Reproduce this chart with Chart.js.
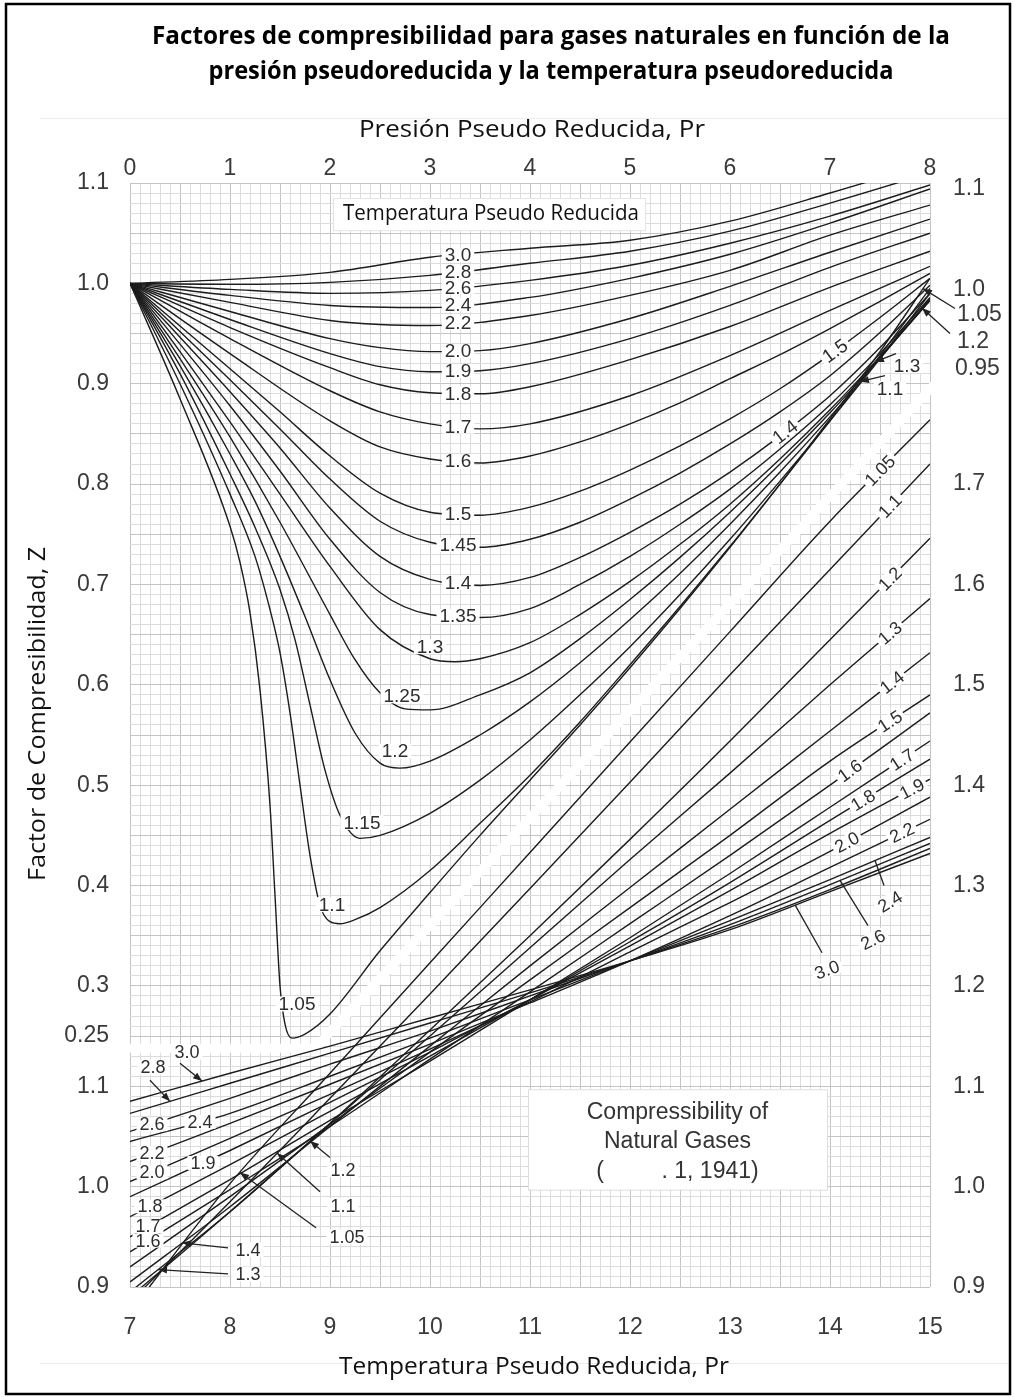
<!DOCTYPE html>
<html>
<head>
<meta charset="utf-8">
<script src="https://cdn.jsdelivr.net/npm/chart.js@4.4.1/dist/chart.umd.min.js"></script>
<style>
html,body{margin:0;padding:0;background:#fff;}
canvas{display:block;}
</style>
</head>
<body>
<canvas id="c" width="1014" height="1397"></canvas>
<script>
// ---------------- DATA ----------------
// Upper chart: Pr 0-8 (top axis), Z left axis. Points are [Pr, Z].
const U300 = [[0,1],[1,1.004],[2,1.011],[3,1.026],[4,1.035],[5,1.043],[6,1.062],[7,1.09],[8,1.12]];
const U280 = [[0,1],[1,0.999],[2,1.001],[3,1.008],[4,1.02],[5,1.032],[6,1.052],[7,1.08],[8,1.11]];
const U260 = [[0,1],[1,0.994],[2,0.99],[3,0.993],[4,1.003],[5,1.018],[6,1.04],[7,1.067],[8,1.098]];
const U240 = [[0,1],[1,0.988],[2,0.978],[3,0.976],[4,0.986],[5,1.005],[6,1.029],[7,1.06],[8,1.094]];
const U220 = [[0,1],[1,0.981],[2,0.963],[2.5,0.959],[3,0.958],[4,0.968],[5,0.988],[6,1.013],[7,1.048],[8,1.078]];
const U200 = [[0,1],[1,0.972],[2,0.945],[2.5,0.936],[3,0.932],[3.5,0.933],[4,0.94],[5,0.965],[6,0.997],[7,1.031],[8,1.064]];
const U190 = [[0,1],[1,0.964],[2,0.93],[2.5,0.917],[3,0.912],[3.5,0.913],[4,0.92],[5,0.945],[6,0.978],[7,1.016],[8,1.05]];
const U180 = [[0,1],[1,0.956],[2,0.916],[2.5,0.899],[3,0.891],[3.5,0.89],[4,0.897],[5,0.924],[6,0.957],[7,0.996],[8,1.032]];
const U170 = [[0,1],[1,0.945],[2,0.893],[2.5,0.872],[3,0.86],[3.5,0.855],[4,0.86],[5,0.888],[6,0.928],[7,0.973],[8,1.017]];
const U160 = [[0,1],[1,0.93],[2,0.863],[2.5,0.837],[3,0.825],[3.5,0.821],[4,0.828],[4.5,0.842],[5,0.86],[5.5,0.881],[6,0.905],[6.5,0.929],[7,0.955],[7.5,0.982],[8,1.01]];
const U150 = [[0,1],[1,0.915],[1.5,0.872],[2,0.828],[2.5,0.791],[3,0.772],[3.5,0.769],[4,0.777],[4.5,0.793],[5,0.814],[5.5,0.838],[6,0.865],[6.5,0.895],[7,0.929],[7.5,0.966],[8,1.005]];
const U145 = [[0,1],[1,0.904],[1.5,0.855],[2,0.805],[2.5,0.763],[3,0.742],[3.5,0.737],[4,0.745],[4.5,0.762],[5,0.785],[5.5,0.811],[6,0.84],[6.5,0.872],[7,0.908],[7.5,0.951],[8,0.998]];
const U140 = [[0,1],[1,0.892],[1.5,0.836],[2,0.776],[2.5,0.728],[3,0.705],[3.5,0.699],[4,0.707],[4.5,0.727],[5,0.752],[5.5,0.78],[6,0.812],[6.5,0.848],[7,0.888],[7.5,0.936],[8,0.99]];
const U135 = [[0,1],[1,0.878],[1.5,0.813],[2,0.745],[2.5,0.692],[3,0.67],[3.5,0.667],[4,0.676],[4.5,0.7],[5,0.728],[5.5,0.76],[6,0.795],[6.5,0.835],[7,0.879],[7.5,0.93],[8,0.986]];
const U130 = [[0,1],[0.5,0.932],[1,0.862],[1.5,0.79],[2,0.718],[2.5,0.655],[3,0.626],[3.25,0.623],[3.5,0.626],[4,0.642],[4.5,0.67],[5,0.703],[5.5,0.74],[6,0.78],[6.5,0.825],[7,0.874],[7.5,0.927],[8,0.983]];
const U125 = [[0,1],[0.5,0.925],[1,0.847],[1.5,0.762],[2,0.67],[2.25,0.625],[2.5,0.592],[2.75,0.576],[3,0.575],[3.5,0.59],[4,0.612],[4.5,0.646],[5,0.685],[5.5,0.727],[6,0.772],[6.5,0.82],[7,0.871],[7.5,0.926],[8,0.983]];
const U120 = [[0,1],[0.5,0.918],[1,0.83],[1.25,0.783],[1.5,0.728],[1.75,0.668],[2,0.605],[2.25,0.552],[2.5,0.522],[2.7,0.517],[3,0.524],[3.5,0.55],[4,0.583],[4.5,0.622],[5,0.665],[5.5,0.711],[6,0.76],[6.5,0.812],[7,0.867],[7.5,0.925],[8,0.985]];
const U115 = [[0,1],[0.5,0.91],[1,0.81],[1.25,0.757],[1.5,0.695],[1.65,0.645],[1.8,0.58],[1.95,0.515],[2.1,0.47],[2.3,0.447],[2.5,0.45],[3,0.472],[3.5,0.505],[4,0.545],[4.5,0.59],[5,0.638],[5.5,0.69],[6,0.745],[6.5,0.803],[7,0.863],[7.5,0.925],[8,0.99]];
const U110 = [[0,1],[0.5,0.9],[1,0.79],[1.25,0.728],[1.4,0.675],[1.5,0.632],[1.6,0.572],[1.7,0.5],[1.8,0.43],[1.9,0.38],[2,0.364],[2.1,0.362],[2.25,0.366],[2.5,0.378],[3,0.415],[3.5,0.462],[4,0.51],[4.5,0.563],[5,0.62],[5.5,0.678],[6,0.738],[6.5,0.8],[7,0.863],[7.5,0.928],[8,0.995]];
const U105 = [[0,1],[0.5,0.885],[1,0.758],[1.1,0.722],[1.2,0.672],[1.3,0.595],[1.4,0.48],[1.45,0.39],[1.5,0.3],[1.55,0.262],[1.62,0.248],[1.75,0.252],[2,0.272],[2.5,0.335],[3,0.393],[3.5,0.45],[4,0.505],[4.5,0.56],[5,0.617],[5.5,0.676],[6,0.737],[6.5,0.8],[7,0.865],[7.5,0.932],[8,1.005]];
const upperNames = ['3.0','2.8','2.6','2.4','2.2','2.0','1.9','1.8','1.7','1.6','1.5','1.45','1.4','1.35','1.3','1.25','1.2','1.15','1.1','1.05'];
const upperCurves = [U300,U280,U260,U240,U220,U200,U190,U180,U170,U160,U150,U145,U140,U135,U130,U125,U120,U115,U110,U105];

// Lower chart: Pr 7-15 (bottom axis), Z right axis.
const prLower = [7,8,9,10,11,12,13,14,15];
const L300 = [1.085,1.113,1.14,1.168,1.196,1.225,1.256,1.294,1.332];
const L280 = [1.073,1.103,1.133,1.163,1.193,1.225,1.258,1.296,1.337];
const L260 = [1.055,1.088,1.122,1.155,1.19,1.225,1.261,1.301,1.342];
const L240 = [1.045,1.073,1.11,1.148,1.186,1.225,1.265,1.306,1.348];
const L220 = [1.025,1.063,1.102,1.142,1.183,1.225,1.27,1.318,1.366];
const L200 = [1.005,1.048,1.092,1.137,1.184,1.234,1.283,1.334,1.388];
const L190 = [0.99,1.036,1.084,1.134,1.186,1.24,1.295,1.352,1.406];
const L180 = [0.97,1.022,1.075,1.13,1.186,1.244,1.303,1.365,1.426];
const L170 = [0.95,1.007,1.066,1.125,1.186,1.248,1.312,1.378,1.444];
const L160 = [0.935,0.997,1.06,1.127,1.194,1.262,1.33,1.4,1.472];
const L150 = [0.92,0.99,1.062,1.134,1.206,1.278,1.35,1.424,1.49];
const L140 = [0.905,0.98,1.06,1.14,1.22,1.298,1.376,1.454,1.532];
const L130 = [0.895,0.975,1.063,1.15,1.238,1.326,1.412,1.5,1.586];
const L120 = [0.89,0.975,1.063,1.156,1.25,1.346,1.444,1.545,1.646];
const L110 = [0.885,0.985,1.088,1.192,1.297,1.403,1.51,1.615,1.72];
const L105 = [0.875,1.003,1.113,1.223,1.333,1.443,1.553,1.663,1.764];
const lowerNames = ['3.0','2.8','2.6','2.4','2.2','2.0','1.9','1.8','1.7','1.6','1.5','1.4','1.3','1.2','1.1','1.05'];
const lowerCurves = [L300,L280,L260,L240,L220,L200,L190,L180,L170,L160,L150,L140,L130,L120,L110,L105];

// Axis tick values / labels
const topTickValues = [0,1,2,3,4,5,6,7,8];
const bottomTickValues = [7,8,9,10,11,12,13,14,15];
const leftTickValues = [0,0.1,0.2,0.25,0.3,0.4,0.5,0.6,0.7,0.8,0.9,1.0,1.1];
const leftTickLabels = ['0.9','1.0','1.1','0.25','0.3','0.4','0.5','0.6','0.7','0.8','0.9','1.0','1.1'];
const rightTickValues = [0.9,1.0,1.1,1.2,1.3,1.4,1.5,1.6,1.7,1.894,1.994];
const rightTickLabels = ['0.9','1.0','1.1','1.2','1.3','1.4','1.5','1.6','1.7','1.0','1.1'];

// White separator band (upper-chart coordinates)
const bandPr = [0, 1.85, 8.05];
const bandZ  = [0.238, 0.238, 0.9];

// Labels on upper curves: [curve name, Pr, rotate?]
const upperLineLabels = [['3.0',3.28,0],['2.8',3.28,0],['2.6',3.28,0],['2.4',3.28,0],['2.2',3.28,0],['2.0',3.28,0],['1.9',3.28,0],['1.8',3.28,0],['1.7',3.28,0],['1.6',3.28,0],['1.5',3.28,0],['1.45',3.28,0],['1.4',3.28,0],['1.35',3.28,0],['1.4',6.55,1],['1.5',7.05,1]];
// Free labels near minima: [text, Pr, Z]
const upperFreeLabels = [['1.3',3.0,0.638],['1.25',2.72,0.589],['1.2',2.65,0.534],['1.15',2.32,0.463],['1.1',2.02,0.381],['1.05',1.67,0.282]];
// Pointers upper: [text, textPr, textZ, startPr, startZ, curve, targetPr, align]
const upperPointers = [['1.3',7.77,0.918,7.66,0.93,'1.3',7.45,'center'],['1.1',7.6,0.895,7.55,0.908,'1.1',7.3,'center'],
  ['1.05',8.27,0.97,8.25,0.975,'1.05',7.93,'left'],['1.2',8.27,0.943,8.2,0.95,'1.2',7.92,'left']];
const upperRightTexts = [['0.95',8.25,0.916]];
// Lower line labels rotated: [curve, Pr]
const lowerLineLabels = [['1.05',14.5],['1.1',14.6],['1.2',14.6],['1.3',14.6],['1.4',14.62],['1.5',14.6],['1.6',14.2],['1.7',14.72],['1.8',14.33],['1.9',14.82],['2.0',14.17],['2.2',14.72]];
// Lower-left horizontal line labels
const lowerLeftLabels = [['2.6',7.22],['2.4',7.7],['2.2',7.22],['2.0',7.22],['1.9',7.73],['1.8',7.2],['1.7',7.18],['1.6',7.18]];
// Lower pointers: [text, textPr, textZ, startPr, startZ, curve, targetPr, head, rot]
const lowerPointers = [
  ['3.0',7.57,1.134,7.5,1.123,'3.0',7.72,1,0],['2.8',7.23,1.119,7.2,1.106,'2.8',7.4,1,0],
  ['1.4',8.18,0.937,7.98,0.939,'1.4',7.52,1,0],['1.3',8.18,0.913,7.98,0.913,'1.3',7.28,1,0],
  ['1.2',9.13,1.017,9.0,1.029,'1.2',8.8,1,0],['1.1',9.13,0.981,8.9,0.995,'1.1',8.47,1,0],
  ['1.05',9.17,0.95,8.86,0.959,'1.05',8.1,1,0],
  ['3.0',13.97,1.216,13.92,1.233,'3.0',13.65,0,-0.35],['2.6',14.43,1.246,14.38,1.26,'2.6',14.1,0,-0.45],['2.4',14.6,1.284,14.54,1.3,'2.4',14.45,0,-0.55]
];

// ---------------- HELPERS ----------------
function lerp(pts, x){
  if (x <= pts[0][0]) return pts[0][1];
  for (let i=1;i<pts.length;i++){
    if (x <= pts[i][0]){ const [x0,y0]=pts[i-1],[x1,y1]=pts[i]; return y0+(y1-y0)*(x-x0)/(x1-x0); }
  }
  return pts[pts.length-1][1];
}
const lowerPts = lowerCurves.map(zs => prLower.map((p,j)=>[p,zs[j]]));
function upperCurve(name){ return upperCurves[upperNames.indexOf(name)]; }
function lowerCurve(name){ return lowerPts[lowerNames.indexOf(name)]; }

function label(ctx, txt, x, y, font, ang, bg, bgH, color, align){
  ctx.save(); ctx.translate(x,y); ctx.rotate(ang||0); ctx.font=font;
  ctx.textAlign=align||'center'; ctx.textBaseline='middle';
  const w=ctx.measureText(txt).width;
  if (bg){ ctx.fillStyle='#fff'; const x0 = (align==='left')?-2:-w/2-3; ctx.fillRect(x0,-bgH/2,w+6,bgH); }
  ctx.fillStyle=color||'#2e2e2e'; ctx.fillText(txt,0,1);
  ctx.restore();
}
function fitText(ctx, txt, x, y, font, width, ang, color){
  ctx.save(); ctx.translate(x,y); ctx.rotate(ang||0); ctx.font=font;
  ctx.textAlign='center'; ctx.textBaseline='middle';
  const w=ctx.measureText(txt).width; ctx.scale(width/w,1);
  ctx.fillStyle=color||'#000'; ctx.fillText(txt,0,0); ctx.restore();
}
function pointer(ctx,x0,y0,x1,y1,head){
  ctx.save(); ctx.strokeStyle='#222'; ctx.fillStyle='#222'; ctx.lineWidth=1.3;
  ctx.beginPath(); ctx.moveTo(x0,y0); ctx.lineTo(x1,y1); ctx.stroke();
  if (head){
    const a=Math.atan2(y1-y0,x1-x0), L=9, W=3.5;
    ctx.beginPath(); ctx.moveTo(x1,y1);
    ctx.lineTo(x1-L*Math.cos(a)+W*Math.sin(a), y1-L*Math.sin(a)-W*Math.cos(a));
    ctx.lineTo(x1-L*Math.cos(a)-W*Math.sin(a), y1-L*Math.sin(a)+W*Math.cos(a));
    ctx.closePath(); ctx.fill();
  }
  ctx.restore();
}

const NUM = '"Liberation Sans", Arial, sans-serif';
const TXT = '"Open Sans", "Noto Sans", sans-serif';

const annotate = {
  id:'annotate',
  beforeDatasetsDraw(chart){
    const {ctx} = chart; const xT=chart.scales.xTop, yU=chart.scales.yUp, xB=chart.scales.xBot, yL=chart.scales.yLow;
    ctx.save(); ctx.strokeStyle='#fff'; ctx.lineWidth=9; ctx.lineCap='butt'; ctx.lineJoin='miter';
    ctx.beginPath();
    bandPr.forEach((p,i)=>{ const x=xT.getPixelForValue(p), y=yU.getPixelForValue(bandZ[i]); if(i) ctx.lineTo(x,y); else ctx.moveTo(x,y); });
    ctx.stroke(); ctx.restore();
    const bx0=xT.getPixelForValue(2.03), bx1=xT.getPixelForValue(5.15), by0=yU.getPixelForValue(1.085), by1=yU.getPixelForValue(1.053);
    ctx.save(); ctx.fillStyle='#fff'; ctx.fillRect(bx0,by0,bx1-bx0,by1-by0); ctx.strokeStyle='#e4e4e4'; ctx.lineWidth=1; ctx.strokeRect(bx0+0.5,by0+0.5,bx1-bx0,by1-by0); ctx.restore();
    fitText(ctx,'Temperatura Pseudo Reducida',(bx0+bx1)/2+2,(by0+by1)/2,'21px '+TXT,296,0,'#111');
    const cx0=xB.getPixelForValue(10.98), cx1=xB.getPixelForValue(13.97), cy0=yL.getPixelForValue(1.097), cy1=yL.getPixelForValue(0.997);
    ctx.save(); ctx.fillStyle='#fff'; ctx.fillRect(cx0,cy0,cx1-cx0,cy1-cy0); ctx.strokeStyle='#dedede'; ctx.strokeRect(cx0+0.5,cy0+0.5,cx1-cx0,cy1-cy0); ctx.restore();
    const cxm=(cx0+cx1)/2;
    label(ctx,'Compressibility of',cxm,cy0+22,'23px '+NUM,0,false,0,'#333');
    label(ctx,'Natural Gases',cxm,cy0+51,'23px '+NUM,0,false,0,'#333');
    label(ctx,'(         . 1, 1941)',cxm,cy0+81,'23px '+NUM,0,false,0,'#333');
  },
  afterDatasetsDraw(chart){
    const {ctx} = chart; const xT=chart.scales.xTop, yU=chart.scales.yUp, xB=chart.scales.xBot, yL=chart.scales.yLow;
    const F = '19px '+NUM, FS = '18px '+NUM;
    upperLineLabels.forEach(([n,pr,rot])=>{
      const pts=upperCurve(n); const x=xT.getPixelForValue(pr), y=yU.getPixelForValue(lerp(pts,pr));
      let ang=0;
      if (rot){ const xa=xT.getPixelForValue(pr-0.15), ya=yU.getPixelForValue(lerp(pts,pr-0.15)), xb=xT.getPixelForValue(pr+0.15), yb=yU.getPixelForValue(lerp(pts,pr+0.15)); ang=Math.atan2(yb-ya,xb-xa); }
      label(ctx,n,x,y,F,ang,true,14);
    });
    upperFreeLabels.forEach(([t,pr,z])=> label(ctx,t,xT.getPixelForValue(pr),yU.getPixelForValue(z),F,0,true,15));
    upperPointers.forEach(([t,tp,tz,sp,sz,n,tgt,al])=>{
      const pts=upperCurve(n);
      pointer(ctx,xT.getPixelForValue(sp),yU.getPixelForValue(sz),xT.getPixelForValue(tgt),yU.getPixelForValue(lerp(pts,tgt)),1);
      const big = al==='left';
      label(ctx,t,xT.getPixelForValue(tp),yU.getPixelForValue(tz),big?'23px '+NUM:F,0,!big,15,big?'#3a3a3a':'#2e2e2e',al);
    });
    upperRightTexts.forEach(([t,pr,z])=> label(ctx,t,xT.getPixelForValue(pr),yU.getPixelForValue(z),'23px '+NUM,0,false,0,'#3a3a3a','left'));
    lowerLineLabels.forEach(([n,pr])=>{
      const pts=lowerCurve(n); const x=xB.getPixelForValue(pr), y=yL.getPixelForValue(lerp(pts,pr));
      const xa=xB.getPixelForValue(pr-0.2), ya=yL.getPixelForValue(lerp(pts,pr-0.2)), xb=xB.getPixelForValue(pr+0.2), yb=yL.getPixelForValue(lerp(pts,pr+0.2));
      label(ctx,n,x,y,FS,Math.atan2(yb-ya,xb-xa),true,14);
    });
    lowerLeftLabels.forEach(([n,pr])=>{
      const pts=lowerCurve(n);
      label(ctx,n,xB.getPixelForValue(pr),yL.getPixelForValue(lerp(pts,pr)),FS,0,true,14);
    });
    lowerPointers.forEach(([t,tp,tz,sp,sz,n,tgt,head,rot])=>{
      const pts=lowerCurve(n);
      pointer(ctx,xB.getPixelForValue(sp),yL.getPixelForValue(sz),xB.getPixelForValue(tgt),yL.getPixelForValue(lerp(pts,tgt)),head);
      label(ctx,t,xB.getPixelForValue(tp),yL.getPixelForValue(tz),FS,rot,true,15);
    });
  },
  afterDraw(chart){
    const {ctx} = chart;
    ctx.save(); ctx.strokeStyle='#ececec'; ctx.lineWidth=1;
    ctx.beginPath(); ctx.moveTo(40,118.5); ctx.lineTo(1008,118.5); ctx.moveTo(40,1363.5); ctx.lineTo(1008,1363.5); ctx.stroke(); ctx.restore();
    fitText(ctx,'Factores de compresibilidad para gases naturales en función de la',551,37,'bold 25px '+TXT,798,0,'#000');
    fitText(ctx,'presión pseudoreducida y la temperatura pseudoreducida',551,72,'bold 25px '+TXT,685,0,'#000');
    fitText(ctx,'Presión Pseudo Reducida, Pr',532,130,'24px '+TXT,346,0,'#111');
    fitText(ctx,'Temperatura Pseudo Reducida, Pr',534,1367,'24px '+TXT,390,0,'#111');
    fitText(ctx,'Factor de Compresibilidad, Z',38,714,'24px '+TXT,334,-Math.PI/2,'#111');
    ctx.save(); ctx.strokeStyle='#000'; ctx.lineWidth=2.5; ctx.strokeRect(6,4,1004,1390); ctx.restore();
  }
};

// ---------------- CHART ----------------
const lineStyle = {borderColor:'#1c1c1c', borderWidth:1.4, pointRadius:0, pointHitRadius:0, fill:false, cubicInterpolationMode:'monotone', borderJoinStyle:'round'};
const datasets = [];
upperCurves.forEach((pts,i)=> datasets.push(Object.assign({label:'Tpr '+upperNames[i], data: pts.map(([x,y])=>({x,y})), xAxisID:'xTop', yAxisID:'yUp'}, lineStyle)));
lowerCurves.forEach((zs,i)=> datasets.push(Object.assign({label:'Tpr '+lowerNames[i]+' (alta)', data: prLower.map((x,j)=>({x,y:zs[j]})), xAxisID:'xBot', yAxisID:'yLow'}, lineStyle)));

const tickFont = {family:'"Liberation Sans", Arial, sans-serif', size:23};
const tickColor = '#3a3a3a';
const minorC = '#dcdcdc', majorC = '#c4c4c4';

new Chart(document.getElementById('c'), {
  type:'line',
  data:{datasets},
  plugins:[annotate],
  options:{
    responsive:false, animation:false, devicePixelRatio:1, events:[],
    layout:{padding:{top:140,bottom:50,left:30,right:10}},
    plugins:{legend:{display:false}, tooltip:{enabled:false}, title:{display:false}},
    scales:{
      xTop:{type:'linear', position:'top', min:0, max:8,
        afterFit:s=>{s.height=43;},
        border:{display:false},
        grid:{drawTicks:false, lineWidth:1, color:c=> (Math.round(c.tick.value*10)%5===0)?majorC:minorC},
        ticks:{stepSize:0.1, autoSkip:false, maxRotation:0, minRotation:0, padding:1, font:tickFont, color:tickColor,
          callback:(v)=>{ const i=topTickValues.findIndex(t=>Math.abs(t-v)<1e-6); return i<0?'':String(topTickValues[i]); }}},
      xBot:{type:'linear', position:'bottom', min:7, max:15,
        afterFit:s=>{s.height=60;},
        afterBuildTicks:s=>{ s.ticks = bottomTickValues.map(v=>({value:v})); },
        border:{display:false}, grid:{display:false, drawTicks:false},
        ticks:{autoSkip:false, maxRotation:0, minRotation:0, padding:27, font:tickFont, color:tickColor, callback:v=>String(v)}},
      yUp:{type:'linear', position:'left', min:0, max:1.1,
        afterFit:s=>{s.width=100;},
        border:{display:false},
        grid:{drawTicks:false, lineWidth:1, color:c=> (Math.round(c.tick.value*100)%5===0)?majorC:minorC},
        ticks:{stepSize:0.01, autoSkip:false, padding:21, font:tickFont, color:tickColor,
          callback:(v)=>{ const i=leftTickValues.findIndex(t=>Math.abs(t-v)<1e-6); return i<0?'':leftTickLabels[i]; }}},
      yLow:{type:'linear', position:'right', min:0.9, max:2.0,
        afterFit:s=>{s.width=74;},
        afterBuildTicks:s=>{ s.ticks = rightTickValues.map(v=>({value:v})); },
        border:{display:false}, grid:{display:false, drawTicks:false},
        ticks:{autoSkip:false, padding:23, font:tickFont, color:tickColor,
          callback:(v,i)=> rightTickLabels[i]}}
    }
  }
});
</script>
</body>
</html>
